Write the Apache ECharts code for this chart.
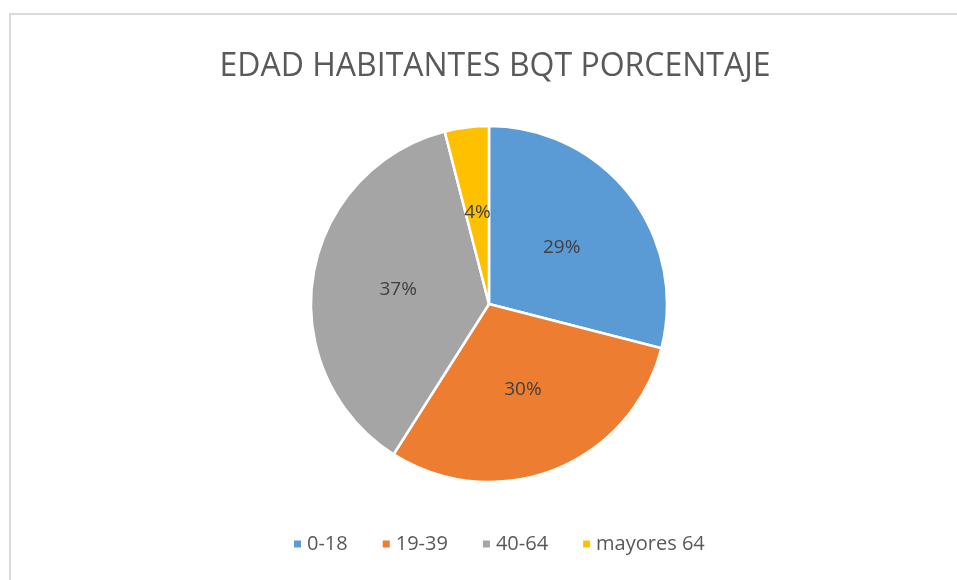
<!DOCTYPE html>
<html>
<head>
<meta charset="utf-8">
<script src="https://cdn.jsdelivr.net/npm/echarts@6/dist/echarts.min.js"></script>
<style>
  html, body { margin: 0; padding: 0; background: #fff; }
  #main { width: 957px; height: 580px; }
</style>
</head>
<body>
<div id="main"></div>
<script>
const categories = ['0-18', '19-39', '40-64', 'mayores 64'];
const values = [29, 30, 37, 4];
const colors = ['#5B9BD5', '#ED7D31', '#A5A5A5', '#FFC000'];

const chart = echarts.init(document.getElementById('main'));
chart.setOption({
  backgroundColor: '#fff',
  textStyle: { fontFamily: 'Open Sans' },
  title: {
    text: 'EDAD HABITANTES BQT PORCENTAJE',
    left: 490,
    textAlign: 'center',
    top: 46,
    textStyle: { fontSize: 32, fontWeight: 'normal', color: '#595959', fontFamily: 'Open Sans' },
  },
  graphic: [
    {
      type: 'rect',
      shape: { x: 10, y: 14, width: 960, height: 580 },
      style: { fill: 'none', stroke: '#d9d9d9', lineWidth: 2 },
      silent: true,
    },
  ],
  legend: {
    bottom: 21,
    left: 287,
    itemWidth: 9,
    itemHeight: 9,
    itemGap: 33,
    icon: 'rect',
    textStyle: { fontSize: 20, color: '#595959' },
    data: categories,
  },
  series: [
    {
      type: 'pie',
      center: [489, 304],
      radius: 178,
      startAngle: 90,
      clockwise: true,
      avoidLabelOverlap: false,
      itemStyle: { borderColor: '#fff', borderWidth: 2.5 },
      label: {
        show: true,
        position: 'inside',
        formatter: '{d}%',
        fontSize: 19,
        color: '#404040',
      },
      labelLine: { show: false },
      data: categories.map((name, i) => ({
        name,
        value: values[i],
        itemStyle: { color: colors[i] },
      })),
    },
  ],
});
</script>
</body>
</html>
